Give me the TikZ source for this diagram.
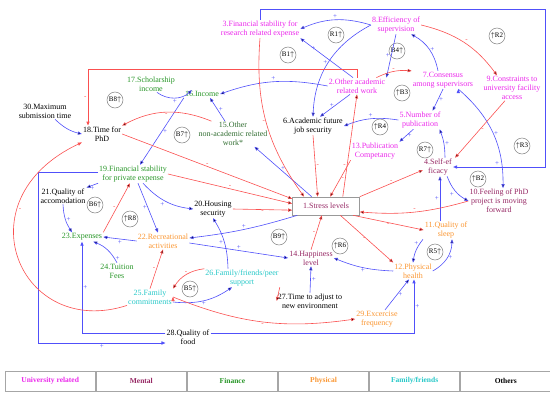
\documentclass[tikz,border=0pt]{standalone}
\usepackage{fontspec}
\setmainfont{Liberation Serif}
\usetikzlibrary{positioning, arrows.meta}
\definecolor{uni}{RGB}{235,40,235}
\definecolor{mental}{RGB}{150,40,100}
\definecolor{fin}{RGB}{40,150,40}
\definecolor{findark}{RGB}{50,110,50}
\definecolor{phys}{RGB}{250,150,50}
\definecolor{fam}{RGB}{40,200,200}
\definecolor{posc}{RGB}{80,80,250}
\definecolor{negc}{RGB}{250,80,80}

\begin{document}
\begin{tikzpicture}[x=1pt, y=-1pt, >={Triangle[length=4pt,width=3.2pt]},
  var/.style={align=center, inner sep=1pt, font=\fontsize{8}{8.8}\selectfont},
  stressbox/.style={var, draw=gray!80, line width=.6pt, minimum width=67pt, minimum height=18pt},
  poslink/.style={->, draw=posc, line width=.6pt},
  neglink/.style={->, draw=negc, line width=.6pt},
  psign/.style={text=posc, inner sep=1pt, font=\fontsize{7}{7}\selectfont},
  nsign/.style={text=negc, inner sep=1pt, font=\fontsize{7}{7}\selectfont},
  loopmark/.style={circle, draw=gray, line width=.5pt, minimum size=16pt, inner sep=0pt, font=\fontsize{7}{7}\selectfont},
  legcell/.style={draw=gray!70, line width=.8pt, minimum width=90.33pt, minimum height=20pt, inner sep=0pt, font=\bfseries\fontsize{7.5}{8}\selectfont}]
  \useasboundingbox (0,0) rectangle (550,394);

  % variables
  \node[stressbox, text=mental] (n1) at (326,206) {1.Stress levels};
  \node[var, text=uni] (n2) at (357,86) {2.Other academic\\related work};
  \node[var, text=uni] (n3) at (260,29) {3.Financial stability for\\research related expense};
  \node[var, text=mental] (n4) at (438,167) {4.Self-ef\\ficacy};
  \node[var, text=uni] (n5) at (420,120) {5.Number of\\publication};
  \node[var] (n6) at (313,126) {6.Academic future\\job security};
  \node[var, text=uni] (n7) at (443,80) {7.Consensus\\among supervisors};
  \node[var, text=uni] (n8) at (396,25) {8.Efficiency of\\supervision};
  \node[var, text=uni] (n9) at (512,88) {9.Constraints to\\university facility\\access};
  \node[var, text=mental] (n10) at (499,201) {10.Feeling of PhD\\project is moving\\forward};
  \node[var, text=phys] (n11) at (446,230) {11.Quality of\\sleep};
  \node[var, text=phys] (n12) at (413,271) {12.Physical\\health};
  \node[var, text=uni] (n13) at (375,151) {13.Publication\\Competancy};
  \node[var, text=mental] (n14) at (311,258) {14.Happiness\\level};
  \node[var, text=findark] (n15) at (233,134) {15.Other\\non-academic related\\work*};
  \node[var, text=fin] (n16) at (202,94) {16.Income};
  \node[var, text=fin] (n17) at (151,84) {17.Scholarship\\income};
  \node[var] (n18) at (102,134) {18.Time for\\PhD};
  \node[var, text=fin] (n19) at (133,174) {19.Financial stability\\for private expense};
  \node[var] (n20) at (213,209) {20.Housing\\security};
  \node[var] (n21) at (63,196) {21.Quality of\\accomodation};
  \node[var, text=phys] (n22) at (163,241) {22.Recreational\\activities};
  \node[var, text=fin] (n23) at (82,237) {23.Expenses};
  \node[var, text=fin] (n24) at (117,271) {24.Tuition\\Fees};
  \node[var, text=fam] (n25) at (150,297) {25.Family\\commitments};
  \node[var, text=fam] (n26) at (242,278) {26.Family/friends/peer\\support};
  \node[var] (n27) at (310,301) {27.Time to adjust to\\new environment};
  \node[var] (n28) at (188,337) {28.Quality of\\food};
  \node[var, text=phys] (n29) at (377,319) {29.Excercise\\frequency};
  \node[var] (n30) at (45,111) {30.Maximum\\submission time};

  % loop markers
  \node[loopmark] (lR1) at (336,35) {R1$\uparrow$};
  \node[loopmark] (lB1) at (288,55) {B1$\uparrow$};
  \node[loopmark] (lR2) at (497,36) {$\uparrow$R2};
  \node[loopmark] (lB4) at (397,51) {B4$\uparrow$};
  \node[loopmark] (lB3) at (402,93) {$\uparrow$B3};
  \node[loopmark] (lB8) at (115,100) {B8$\uparrow$};
  \node[loopmark] (lR4) at (380,127) {$\uparrow$R4};
  \node[loopmark] (lR7) at (425,150) {R7$\uparrow$};
  \node[loopmark] (lR3) at (522,146) {$\uparrow$R3};
  \node[loopmark] (lB2) at (478,179) {$\uparrow$B2};
  \node[loopmark] (lB7) at (182,135) {B7$\uparrow$};
  \node[loopmark] (lB6) at (95,205) {B6$\uparrow$};
  \node[loopmark] (lR8) at (130,219) {$\uparrow$R8};
  \node[loopmark] (lB9) at (279,237) {B9$\uparrow$};
  \node[loopmark] (lR6) at (340,246) {$\uparrow$R6};
  \node[loopmark] (lR5) at (435,252) {R5$\uparrow$};
  \node[loopmark] (lB5) at (190,289) {B5$\uparrow$};

  % corners of the framed links
  \coordinate (k1) at (88,69);
  \coordinate (k2) at (545,9);
  \coordinate (k3) at (38,343);

  % positive links
  \path[poslink]
    (n8.west) edge[bend right=20] node[psign, above] (s1) {+} (n3.east)
    ([xshift=-4pt]n2.north) edge node[psign, pos=.8, below right=-1pt] (s2) {+} (n3.south east)
    (n8.south) edge node[psign, left] (s3) {+} (n2.north east)
    (n8.west) edge[bend right=30] node[psign, left] (s4) {+} (n6.north)
    ([xshift=-7pt]n2.south) edge node[psign, left] (s5) {+} ([xshift=7pt]n6.north)
    (n5.west) edge[bend right=15] node[psign, above] (s6) {+} (n6.east)
    (n2.west) edge[bend right=15] node[psign, above] (s7) {+} (n16.east)
    ([xshift=-8pt]n15.north) edge node[psign, right] (s8) {+} ([xshift=8pt]n16.south)
    ([xshift=6pt]n17.south) edge[bend right=40] node[psign, below] (s9) {+} ([xshift=8pt]n16.north west)
    (n16.south west) edge node[psign, right] (s10) {+} ([xshift=7pt]n19.north)
    ([xshift=10pt]n30.south) edge[bend right=15] (n18.west)
    (n1.147) edge node[psign, above] (s11) {+} ([xshift=-14pt]n15.south east)
    ([xshift=10pt]n19.south) edge[bend right=20] node[psign, below left] (s12) {+} (n20.west)
    (n19.south west) edge node[psign, below] (s13) {+} (n21.north east)
    ([xshift=5pt]n19.south) edge node[psign, left] (s14) {+} ([xshift=-5pt]n22.north)
    (n21.south) edge[bend right=15] node[psign, right] (s15) {+} ([xshift=-10pt]n23.north)
    (n22.west) edge node[psign, below] (s16) {+} (n23.east)
    (n24.north) edge[bend right=20] node[psign, pos=.15, right] (s17) {+} ([xshift=-10pt]n23.south east)
    (n1.198) edge[bend left=5] node[psign, above] (s18) {+} ([yshift=3pt]n22.east)
    ([yshift=-2pt]n22.east) edge node[psign, above] (s19) {+} (n14.west)
    (n12.west) edge[bend left=10] node[psign, below] (s20) {+} (n14.east)
    (n27.north) edge node[psign, right] (s21) {+} (n14.south)
    ([xshift=-14pt]n26.north) edge[bend right=15] node[psign, left] (s22) {+} (n20.south)
    ([yshift=-5pt]n25.east) edge[bend right=20] node[psign, below] (s23) {+} ([xshift=-10pt]n26.south)
    ([xshift=8pt]n29.north) edge node[psign, right] (s24) {+} ([xshift=-4pt]n12.south)
    ([xshift=-23pt]n11.south) edge[bend right=15] node[psign, pos=.2, left] (s25) {+} (n12.north)
    (n12.east) edge[bend right=30] node[psign, right] (s26) {+} ([xshift=6pt]n11.south)
    ([xshift=-6pt]n11.north) edge node[psign, left] (s27) {+} ([xshift=2pt]n4.south)
    ([xshift=-6pt]n4.south east) edge[bend right=20] node[psign, below left] (s28) {+} (n10.west)
    ([xshift=7pt]n4.north) edge[bend right=10] node[psign, right] (s29) {+} ([xshift=-2pt]n5.south east)
    ([xshift=15pt]n5.south west) edge node[psign, right] (s30) {+} (n13.north east)
    (n7.south) edge node[psign, right] (s31) {+} ([xshift=-9pt]n5.north east)
    ([xshift=-5pt]n7.north) edge[bend right=25] node[psign, right] (s32) {+} ([xshift=-10pt]n8.south east)
    ([xshift=-16pt]n7.south east) edge[bend left=25] node[psign, right] (s33) {+} ([xshift=4pt]n10.north);

  % framed positive links
  \draw[poslink, line width=.9pt] (n3.north) |- (k2) |- node[psign, pos=.76, above] (s34) {+} (n4.east);
  \draw[poslink, line width=.9pt] ([yshift=2pt]n19.west) -| (k3) -- node[psign, below] (s35) {+} (n28.west |- k3);
  \draw[poslink, line width=.9pt] ([yshift=4pt]n28.west) -| node[psign, pos=.75, right] (s36) {+} (n23.south);
  \draw[poslink, line width=.9pt] ([yshift=4pt]n28.east) -| node[psign, pos=.75, right] (s37) {+} ([xshift=1pt]n12.south);

  % negative links
  \path[neglink]
    (n8.east) edge[bend left=20] node[nsign, above right] (t1) {-} ([xshift=-15pt]n9.north)
    ([xshift=-10pt]n2.north east) edge[bend left=15] node[nsign, above] (t2) {-} (n7.north west)
    ([xshift=-7pt]n9.south) edge node[nsign, right] (t3) {-} ([xshift=2pt]n4.north east)
    ([xshift=14pt]n15.north west) edge[bend right=25] node[nsign, below] (t4) {-} (n18.north east)
    (n18.east) edge node[nsign, above] (t5) {-} (n1.168)
    (n19.east) edge node[nsign, above] (t6) {-} (n1.176)
    (n20.east) edge node[nsign, below] (t7) {-} (n1.187)
    (n3.south) edge[bend right=20] node[nsign, left] (t8) {-} (n1.157)
    (n6.south) edge node[nsign, right] (t9) {-} (n1.132)
    (n13.south west) edge node[nsign, right] (t10) {-} (n1.66)
    (n1.29) edge node[nsign, pos=.3, left] (t11) {-} (n2.south)
    (n1.north east) edge node[nsign, above] (t12) {-} ([yshift=-3pt]n4.west)
    (n10.west) edge[bend left=10] node[nsign, above] (t13) {-} (n1.350)
    (n1.341) edge node[nsign, below] (t14) {-} (n11.west)
    (n1.327) edge node[nsign, left] (t15) {-} (n12.north west)
    (n14.north) edge node[nsign, left] (t16) {-} (n1.246)
    (n23.north east) edge node[nsign, left] (t17) {-} ([xshift=-3pt]n19.south)
    (n25.north) edge node[nsign, left] (t18) {-} (n22.south)
    (n26.north west) edge[bend right=25] node[nsign, above] (t19) {-} (n25.north east)
    (n26.south east) edge node[nsign, below] (t20) {-} (n27.west)
    (n25.east) edge[bend right=15] node[nsign, below] (t21) {-} (n29.west);
  \draw[neglink] (n25.south west) .. controls (20,340) and (-40,200) .. node[nsign, pos=.7, right] (t22) {-} (n18.south west);
  \draw[neglink, line width=.9pt] (n2.north) |- (k1) -- node[nsign, left] (t23) {-} (n18.north -| k1);

  % legend
  \node[legcell, text=uni] (lg1) at (50.17,381) {University related};
  \node[legcell, text=mental, right=0pt of lg1] (lg2) {Mental};
  \node[legcell, text=fin, right=0pt of lg2] (lg3) {Finance};
  \node[legcell, text=phys, right=0pt of lg3] (lg4) {Physical};
  \node[legcell, text=fam, right=0pt of lg4] (lg5) {Family/friends};
  \node[legcell, right=0pt of lg5] (lg6) {Others};
\end{tikzpicture}
\end{document}
